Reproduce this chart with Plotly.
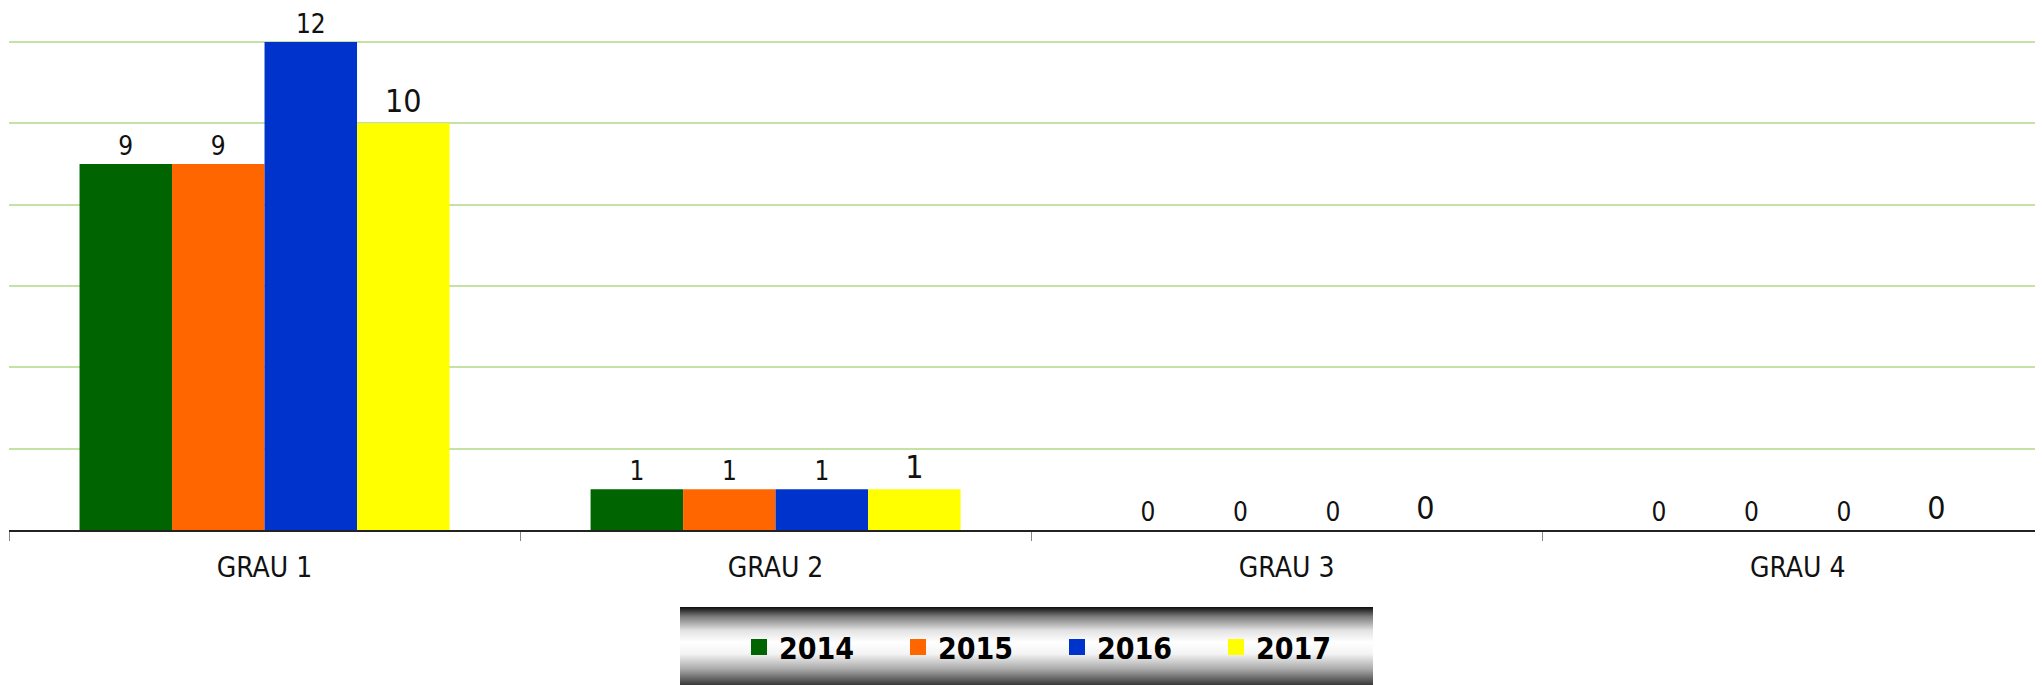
import base64
import plotly.graph_objects as go

categories = ["GRAU 1", "GRAU 2", "GRAU 3", "GRAU 4"]
years = ["2014", "2015", "2016", "2017"]
values_2014 = [9, 1, 0, 0]
values_2015 = [9, 1, 0, 0]
values_2016 = [12, 1, 0, 0]
values_2017 = [10, 1, 0, 0]
series_values = [values_2014, values_2015, values_2016, values_2017]
colors = ["#006400", "#FF6600", "#0033CC", "#FFFF00"]
label_sizes = [26, 26, 26, 32]

# page body has an 8px margin; work in screen pixels and convert
OFF = 8
W, H = 2043 - OFF, 685 - OFF
ML, MR, MT, MB = 1, 0, 32, 155
PW, PH = W - ML - MR, H - MT - MB

FONT = "Liberation Sans Narrow, DejaVu Sans Condensed, Arial Narrow, sans-serif"


def px_x(p):
    return (p - OFF - ML) / PW


def px_y(p):
    return (H - MB - (p - OFF)) / PH


fig = go.Figure()
for name, vals, col, ls in zip(years, series_values, colors, label_sizes):
    fig.add_trace(go.Bar(
        x=categories, y=vals, name=name,
        marker=dict(color=col, line=dict(width=0)),
        text=vals, textposition="outside", cliponaxis=False,
        textfont=dict(family=FONT, size=ls, color="#111111"),
        showlegend=False,
    ))
    fig.add_trace(go.Scatter(
        x=[None], y=[None], name=name, mode="markers",
        marker=dict(symbol="square", size=17, color=col),
        showlegend=True,
    ))

# gradient legend background (decoration)
svg = (
    '<svg xmlns="http://www.w3.org/2000/svg" width="100" height="100" preserveAspectRatio="none">'
    '<defs><linearGradient id="g" x1="0" y1="0" x2="0" y2="1">'
    '<stop offset="0" stop-color="#0d0d0d"/>'
    '<stop offset="0.12" stop-color="#7a7a7a"/>'
    '<stop offset="0.3" stop-color="#e2e2e2"/>'
    '<stop offset="0.45" stop-color="#ffffff"/>'
    '<stop offset="0.6" stop-color="#f4f4f4"/>'
    '<stop offset="0.8" stop-color="#a8a8a8"/>'
    '<stop offset="1" stop-color="#383838"/>'
    '</linearGradient></defs>'
    '<rect width="100" height="100" fill="url(#g)"/></svg>'
)
src = "data:image/svg+xml;base64," + base64.b64encode(svg.encode()).decode()

fig.update_layout(
    width=W, height=H,
    margin=dict(l=ML, r=MR, t=MT, b=MB, pad=0),
    paper_bgcolor="white", plot_bgcolor="white",
    barmode="group", bargap=0.276, bargroupgap=0,
    font=dict(family=FONT, color="#111111"),
    xaxis=dict(
        type="category", range=[-0.5, 3.48],
        showgrid=False, showline=True, linecolor="#222222", linewidth=1.5,
        ticks="outside", tickson="boundaries", ticklen=9, tickcolor="#888888", tickwidth=1,
        tickfont=dict(family=FONT, size=28, color="#111111"),
        ticklabelstandoff=12,
        zeroline=False,
    ),
    yaxis=dict(
        range=[0, 12.05], tickvals=[2, 4, 6, 8, 10, 12], showticklabels=False, showgrid=True,
        gridcolor="#c4e2a3", gridwidth=1.5, zeroline=False, showline=False, ticks="",
    ),
    legend=dict(
        orientation="h", x=px_x(739), xanchor="left", y=px_y(647), yanchor="middle",
        bgcolor="rgba(0,0,0,0)", borderwidth=0,
        entrywidth=114, entrywidthmode="pixels",
        font=dict(family=FONT, size=30, color="#000000", weight="bold"),
        itemclick=False, itemdoubleclick=False,
    ),
    images=[dict(
        source=src, xref="paper", yref="paper",
        x=px_x(680), y=px_y(607), sizex=(1373 - 680) / PW, sizey=(685 - 607) / PH,
        xanchor="left", yanchor="top", sizing="stretch", layer="below",
    )],
)

fig.write_html("out.html")
